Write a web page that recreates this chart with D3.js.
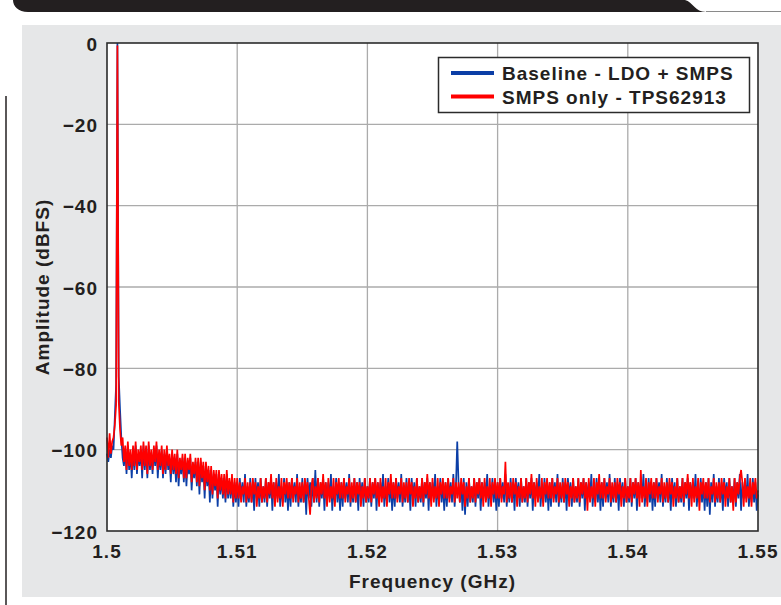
<!DOCTYPE html>
<html>
<head>
<meta charset="utf-8">
<script src="https://cdn.jsdelivr.net/npm/d3@7"></script>
<style>
  html, body { margin: 0; padding: 0; background: #fff; }
  text { font-family: "Liberation Sans", Arial, sans-serif; font-weight: bold; fill: #231f20; }
</style>
</head>
<body>
<div id="chart"></div>
<script>
// axis ticks
const xTicks = [1.5, 1.51, 1.52, 1.53, 1.54, 1.55];
const xTickLabels = ['1.5', '1.51', '1.52', '1.53', '1.54', '1.55'];
const yTicks = [0, -20, -40, -60, -80, -100, -120];
const yTickLabels = ['0', '\u221220', '\u221240', '\u221260', '\u221280', '\u2212100', '\u2212120'];

const seriesNames = ['Baseline - LDO + SMPS', 'SMPS only - TPS62913'];
const seriesColors = ['#0b3ea6', '#ff0000'];

// FFT bins: 1.5 GHz to 1.55 GHz, 0.1 MHz apart
const freqStart = 1.5;
const freqStep = 0.0001;

// dBFS
const baseline = [
  -101, -103, -100, -102, -99, -100, -92, -84, 0, -82,
  -90, -97, -102, -104, -100, -106, -99, -105, -101, -107,
  -100, -105, -99, -106, -101, -104, -100, -107, -99, -105,
  -100, -107, -99, -105, -101, -106, -100, -104, -99, -107,
  -101, -105, -100, -107, -101, -106, -100, -105, -102, -108,
  -101, -106, -102, -108, -101, -109, -103, -106, -102, -108,
  -102, -109, -103, -106, -102, -110, -104, -107, -103, -109,
  -103, -111, -103, -108, -104, -112, -104, -109, -105, -113,
  -105, -112, -106, -110, -106, -114, -106, -111, -107, -112,
  -107, -113, -106, -112, -108, -112, -107, -114, -108, -113,
  -108, -114, -107, -112, -108, -113, -106, -114, -109, -113,
  -107, -113, -108, -115, -107, -112, -108, -114, -107, -113,
  -109, -113, -107, -114, -108, -112, -107, -115, -108, -112,
  -108, -112, -106, -114, -109, -113, -107, -113, -108, -115,
  -108, -114, -107, -112, -108, -113, -106, -114, -109, -113,
  -107, -113, -108, -116, -107, -112, -108, -114, -107, -113,
  -105, -113, -107, -114, -108, -112, -107, -115, -108, -112,
  -108, -112, -106, -115, -109, -113, -107, -113, -108, -115,
  -108, -114, -107, -112, -108, -113, -106, -114, -109, -113,
  -107, -113, -108, -115, -107, -112, -108, -114, -107, -113,
  -109, -113, -107, -114, -108, -112, -107, -115, -108, -112,
  -108, -112, -106, -114, -109, -113, -107, -113, -108, -115,
  -108, -114, -107, -112, -108, -113, -106, -114, -109, -113,
  -107, -113, -108, -115, -107, -112, -108, -114, -107, -113,
  -109, -113, -107, -114, -108, -112, -107, -115, -108, -112,
  -108, -112, -106, -114, -109, -113, -107, -113, -108, -115,
  -108, -114, -107, -112, -108, -113, -106, -114, -109, -98,
  -108, -113, -108, -115, -107, -116, -108, -114, -107, -113,
  -109, -113, -107, -114, -108, -112, -107, -115, -108, -112,
  -108, -112, -106, -114, -109, -113, -107, -113, -108, -115,
  -108, -114, -107, -112, -108, -113, -106, -114, -109, -113,
  -107, -113, -108, -115, -107, -112, -108, -114, -107, -113,
  -109, -113, -107, -114, -108, -112, -107, -115, -108, -112,
  -108, -112, -106, -114, -109, -113, -107, -113, -108, -115,
  -108, -114, -107, -112, -108, -113, -106, -114, -109, -113,
  -107, -113, -108, -115, -107, -112, -108, -114, -107, -113,
  -109, -113, -107, -114, -108, -112, -107, -115, -108, -112,
  -108, -112, -106, -114, -109, -113, -107, -113, -108, -115,
  -108, -114, -107, -112, -108, -113, -106, -114, -109, -113,
  -107, -113, -108, -115, -107, -112, -108, -114, -107, -113,
  -109, -113, -107, -114, -108, -112, -107, -115, -108, -112,
  -108, -112, -106, -114, -109, -113, -107, -113, -108, -115,
  -108, -114, -107, -112, -108, -113, -106, -114, -109, -113,
  -107, -113, -108, -115, -107, -112, -108, -114, -107, -113,
  -109, -113, -107, -114, -108, -112, -107, -115, -108, -112,
  -108, -112, -106, -114, -109, -113, -107, -113, -108, -115,
  -108, -114, -107, -116, -108, -113, -106, -114, -109, -113,
  -107, -113, -108, -115, -107, -112, -108, -114, -107, -113,
  -109, -113, -107, -114, -108, -112, -106, -115, -108, -112,
  -108, -112, -106, -114, -109, -113, -107, -113, -108, -115,
  -111
];

const smpsOnly = [
  -97, -102, -96, -101, -98, -97, -94, -89, -0.6, -88,
  -95, -99, -97, -103, -99, -105, -98, -104, -100, -105,
  -99, -104, -98, -105, -100, -103, -99, -105, -98, -104,
  -99, -106, -98, -104, -100, -105, -99, -103, -98, -105,
  -100, -104, -99, -106, -100, -105, -99, -104, -101, -106,
  -100, -105, -101, -106, -100, -107, -102, -105, -101, -107,
  -101, -107, -102, -105, -101, -108, -103, -106, -102, -108,
  -102, -109, -102, -107, -103, -110, -103, -108, -104, -110,
  -104, -111, -105, -109, -105, -112, -105, -110, -106, -111,
  -106, -112, -105, -111, -107, -111, -106, -113, -107, -112,
  -107, -112, -108, -113, -109, -111, -107, -113, -108, -112,
  -108, -113, -107, -111, -108, -114, -109, -112, -107, -113,
  -109, -112, -107, -113, -108, -111, -106, -112, -108, -114,
  -107, -113, -109, -112, -107, -114, -108, -111, -107, -112,
  -108, -112, -107, -113, -109, -111, -107, -113, -108, -112,
  -108, -113, -107, -111, -108, -112, -116, -109, -107, -113,
  -109, -112, -107, -113, -108, -111, -106, -112, -108, -114,
  -107, -113, -109, -112, -107, -114, -108, -111, -107, -112,
  -108, -112, -107, -113, -109, -111, -107, -113, -108, -112,
  -107, -113, -108, -111, -108, -114, -109, -112, -107, -113,
  -109, -112, -107, -113, -108, -111, -107, -112, -108, -114,
  -107, -113, -109, -112, -107, -114, -108, -111, -106, -112,
  -108, -112, -107, -113, -109, -111, -107, -113, -108, -112,
  -108, -113, -107, -111, -108, -114, -109, -112, -107, -113,
  -109, -112, -107, -113, -108, -111, -106, -112, -108, -114,
  -107, -113, -109, -112, -107, -114, -108, -111, -107, -112,
  -108, -112, -107, -113, -109, -111, -107, -113, -108, -112,
  -108, -113, -107, -111, -108, -114, -109, -112, -107, -113,
  -109, -112, -107, -113, -108, -111, -107, -112, -108, -114,
  -107, -113, -109, -112, -107, -114, -108, -111, -107, -112,
  -108, -112, -107, -113, -109, -111, -103, -113, -108, -112,
  -108, -113, -107, -111, -108, -114, -109, -112, -107, -113,
  -109, -112, -107, -113, -108, -111, -106, -112, -108, -114,
  -107, -113, -109, -112, -107, -114, -108, -111, -107, -112,
  -108, -112, -107, -113, -109, -111, -107, -113, -108, -112,
  -108, -113, -107, -111, -108, -114, -109, -112, -107, -113,
  -109, -112, -107, -113, -108, -111, -107, -112, -108, -115,
  -107, -113, -109, -112, -107, -114, -108, -111, -106, -112,
  -108, -112, -107, -113, -109, -111, -107, -113, -108, -112,
  -108, -113, -107, -111, -108, -114, -109, -112, -107, -113,
  -109, -112, -107, -113, -108, -111, -107, -112, -108, -114,
  -105, -113, -109, -112, -107, -114, -108, -111, -107, -112,
  -108, -112, -107, -113, -109, -111, -107, -113, -108, -112,
  -108, -113, -107, -111, -108, -114, -109, -112, -107, -113,
  -109, -112, -107, -113, -108, -111, -106, -112, -108, -114,
  -107, -113, -109, -112, -107, -115, -108, -111, -107, -112,
  -108, -112, -107, -113, -109, -111, -107, -113, -108, -112,
  -108, -113, -107, -111, -108, -114, -109, -112, -107, -113,
  -109, -115, -107, -113, -108, -111, -107, -105, -108, -114,
  -107, -113, -109, -112, -107, -114, -108, -111, -107, -112,
  -110
];

const W = 781, H = 605;
const plotLeft = 107, plotRight = 758, plotTop = 43, plotBottom = 531;

const svg = d3.select('#chart').append('svg')
  .attr('width', W)
  .attr('height', H);

// page header bar
svg.append('path')
  .attr('d', 'M13,0 L685,0 C693,2 695,12 706,12 L28,12 C18,12 13,6 13,0 Z')
  .attr('fill', '#231f20');
svg.append('line')
  .attr('x1', 706).attr('x2', W).attr('y1', 11.5).attr('y2', 11.5)
  .attr('stroke', '#8a8a8a').attr('stroke-width', 1);

// side rule
svg.append('line')
  .attr('x1', 6).attr('x2', 6).attr('y1', 96).attr('y2', H)
  .attr('stroke', '#231f20').attr('stroke-width', 1.5);

// grey panel
svg.append('rect')
  .attr('x', 22).attr('y', 25)
  .attr('width', W - 22).attr('height', 572)
  .attr('fill', '#e6e7e8');

const x = d3.scaleLinear().domain([1.5, 1.55]).range([plotLeft, plotRight]);
const y = d3.scaleLinear().domain([-120, 0]).range([plotBottom, plotTop]);

svg.append('rect')
  .attr('x', plotLeft).attr('y', plotTop)
  .attr('width', plotRight - plotLeft).attr('height', plotBottom - plotTop)
  .attr('fill', '#fff');

// grid
svg.append('g').selectAll('line')
  .data(xTicks.slice(1, -1))
  .enter().append('line')
  .attr('x1', d => x(d)).attr('x2', d => x(d))
  .attr('y1', plotTop).attr('y2', plotBottom)
  .attr('stroke', '#ababab').attr('stroke-width', 1.3);

svg.append('g').selectAll('line')
  .data(yTicks.slice(1, -1))
  .enter().append('line')
  .attr('x1', plotLeft).attr('x2', plotRight)
  .attr('y1', d => y(d)).attr('y2', d => y(d))
  .attr('stroke', '#ababab').attr('stroke-width', 1.3);

// spectra
const freq = d3.range(baseline.length).map(i => freqStart + i * freqStep);
const line = d3.line()
  .x((d, i) => x(freq[i]))
  .y(d => y(d));

[baseline, smpsOnly].forEach((s, k) => {
  svg.append('path')
    .datum(s)
    .attr('d', line)
    .attr('fill', 'none')
    .attr('stroke', seriesColors[k])
    .attr('stroke-width', 1.7);
});

// frame
svg.append('rect')
  .attr('x', plotLeft).attr('y', plotTop)
  .attr('width', plotRight - plotLeft).attr('height', plotBottom - plotTop)
  .attr('fill', 'none')
  .attr('stroke', '#2b2b2b').attr('stroke-width', 1.6);

// tick labels
svg.append('g').selectAll('text')
  .data(yTicks)
  .enter().append('text')
  .attr('x', 98)
  .attr('y', d => y(d) + 7.5)
  .attr('text-anchor', 'end')
  .style('font-size', '19px')
  .style('letter-spacing', '1px')
  .text((d, i) => yTickLabels[i]);

svg.append('g').selectAll('text')
  .data(xTicks)
  .enter().append('text')
  .attr('x', d => x(d))
  .attr('y', 558)
  .attr('text-anchor', 'middle')
  .style('font-size', '19px')
  .style('letter-spacing', '1px')
  .text((d, i) => xTickLabels[i]);

// axis titles
svg.append('text')
  .attr('x', (plotLeft + plotRight) / 2)
  .attr('y', 588)
  .attr('text-anchor', 'middle')
  .style('font-size', '19px')
  .style('letter-spacing', '1px')
  .text('Frequency (GHz)');

svg.append('text')
  .attr('transform', 'translate(49,' + ((plotTop + plotBottom) / 2) + ') rotate(-90)')
  .attr('text-anchor', 'middle')
  .style('font-size', '19px')
  .style('letter-spacing', '1px')
  .text('Amplitude (dBFS)');

// legend
const legend = svg.append('g');
legend.append('rect')
  .attr('x', 438.5).attr('y', 57.5)
  .attr('width', 311).attr('height', 55)
  .attr('fill', '#fff')
  .attr('stroke', '#2b2b2b').attr('stroke-width', 1.5);

const rows = legend.selectAll('g.row')
  .data(seriesNames)
  .enter().append('g')
  .attr('class', 'row')
  .attr('transform', (d, i) => 'translate(0,' + (i * 23.5) + ')');

rows.append('line')
  .attr('x1', 451).attr('x2', 494)
  .attr('y1', 73).attr('y2', 73)
  .attr('stroke', (d, i) => seriesColors[i])
  .attr('stroke-width', 4);

rows.append('text')
  .attr('x', 502).attr('y', 80)
  .style('font-size', '19px')
  .style('letter-spacing', '1px')
  .text(d => d);
</script>
</body>
</html>
